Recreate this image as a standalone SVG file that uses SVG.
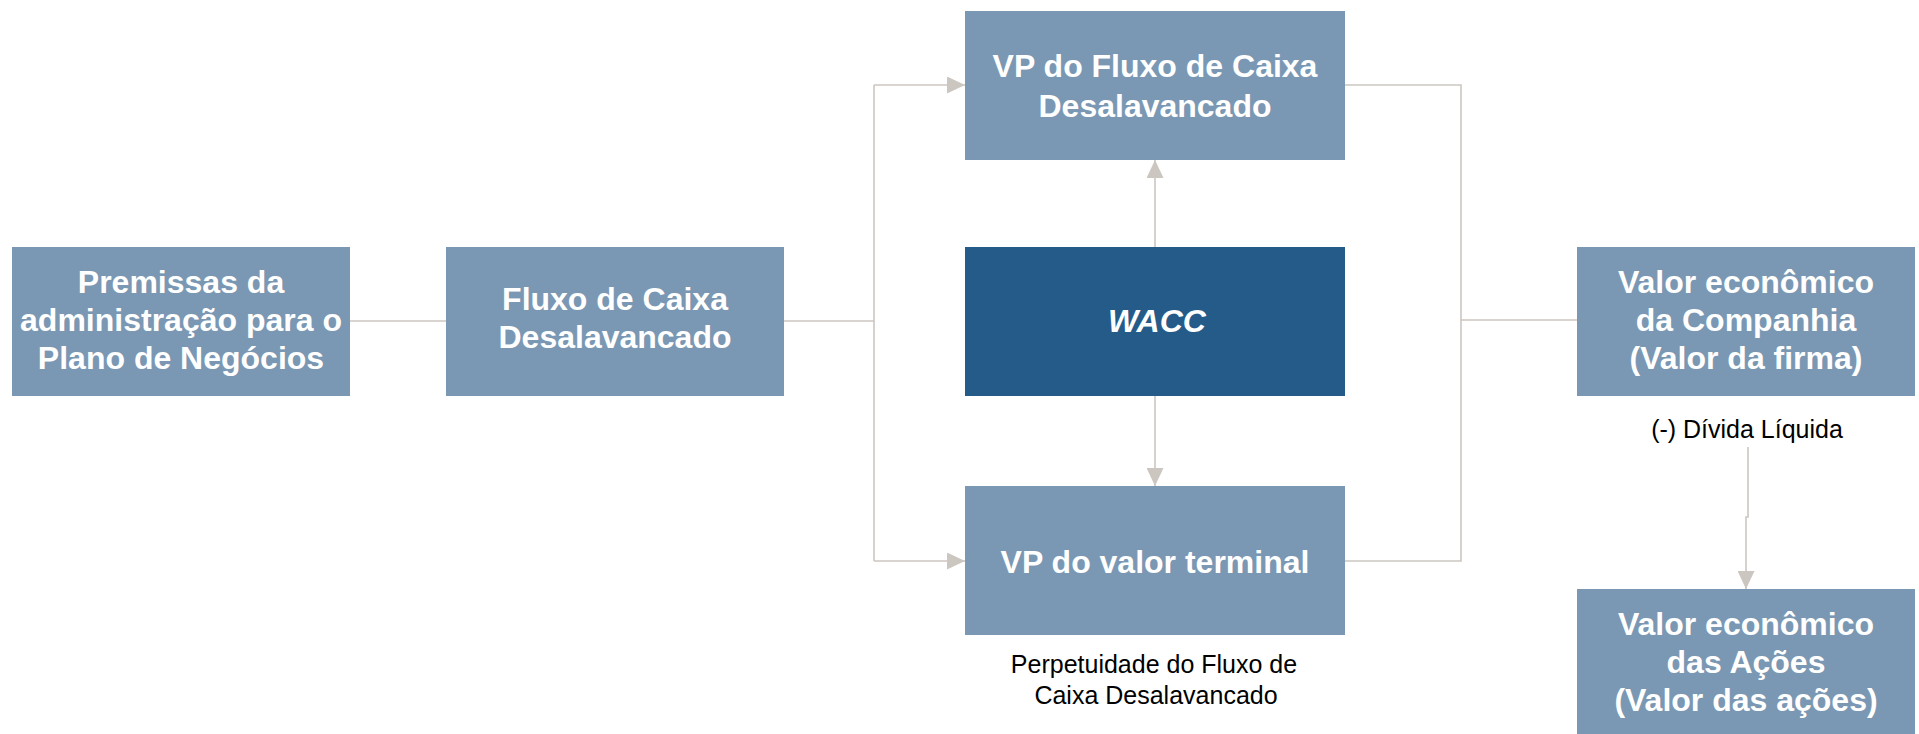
<svg xmlns="http://www.w3.org/2000/svg" width="1919" height="734" viewBox="0 0 1919 734">
<style>
.box{fill:#7A98B3}
.dark{fill:#255B89}
.t{font-family:"Liberation Sans",Arial,sans-serif;font-weight:bold;font-size:32px;fill:#fff;text-anchor:middle}
.it{font-style:italic}
.lbl{font-family:"Liberation Sans",Arial,sans-serif;font-size:25px;fill:#000;text-anchor:middle}
.c{fill:none;stroke:#CCC6C0;stroke-width:1.6}
</style>
<defs>
<marker id="arr" viewBox="0 0 18 17" refX="18" refY="8.5" markerWidth="18" markerHeight="17" markerUnits="userSpaceOnUse" orient="auto">
<path d="M0,0 L18,8.5 L0,17 Z" fill="#CCC6C0"/>
</marker>
</defs>
<rect width="1919" height="734" fill="#fff"/>
<g id="connectors">
<path class="c" d="M350,321 H446"/>
<path class="c" d="M784,321 H874"/>
<path class="c" d="M874,85 V561"/>
<path class="c" d="M874,85 H965" marker-end="url(#arr)"/>
<path class="c" d="M874,561 H965" marker-end="url(#arr)"/>
<path class="c" d="M1155,247 V160" marker-end="url(#arr)"/>
<path class="c" d="M1155,396 V486" marker-end="url(#arr)"/>
<path class="c" d="M1345,85 H1461 V561 H1345"/>
<path class="c" d="M1461,320 H1577"/>
<path class="c" d="M1748,447 V517 H1746 V589" marker-end="url(#arr)"/>
</g>
<g id="premissas">
<rect class="box" x="12" y="247" width="338" height="149"/>
<text class="t" x="181" y="293">Premissas da</text>
<text class="t" x="181" y="331">administração para o</text>
<text class="t" x="181" y="369">Plano de Negócios</text>
</g>
<g id="fluxo">
<rect class="box" x="446" y="247" width="338" height="149"/>
<text class="t" x="615" y="310">Fluxo de Caixa</text>
<text class="t" x="615" y="348">Desalavancado</text>
</g>
<g id="vp-fluxo">
<rect class="box" x="965" y="11" width="380" height="149"/>
<text class="t" x="1155" y="77">VP do Fluxo de Caixa</text>
<text class="t" x="1155" y="117">Desalavancado</text>
</g>
<g id="wacc">
<rect class="dark" x="965" y="247" width="380" height="149"/>
<text class="t it" x="1157" y="332">WACC</text>
</g>
<g id="vp-terminal">
<rect class="box" x="965" y="486" width="380" height="149"/>
<text class="t" x="1155" y="573">VP do valor terminal</text>
<text class="lbl" x="1154" y="673">Perpetuidade do Fluxo de</text>
<text class="lbl" x="1156" y="704">Caixa Desalavancado</text>
</g>
<g id="valor-companhia">
<rect class="box" x="1577" y="247" width="338" height="149"/>
<text class="t" x="1746" y="293">Valor econômico</text>
<text class="t" x="1746" y="331">da Companhia</text>
<text class="t" x="1746" y="369">(Valor da firma)</text>
<text class="lbl" x="1747" y="438">(-) Dívida Líquida</text>
</g>
<g id="valor-acoes">
<rect class="box" x="1577" y="589" width="338" height="145"/>
<text class="t" x="1746" y="635">Valor econômico</text>
<text class="t" x="1746" y="673">das Ações</text>
<text class="t" x="1746" y="711">(Valor das ações)</text>
</g>
</svg>
